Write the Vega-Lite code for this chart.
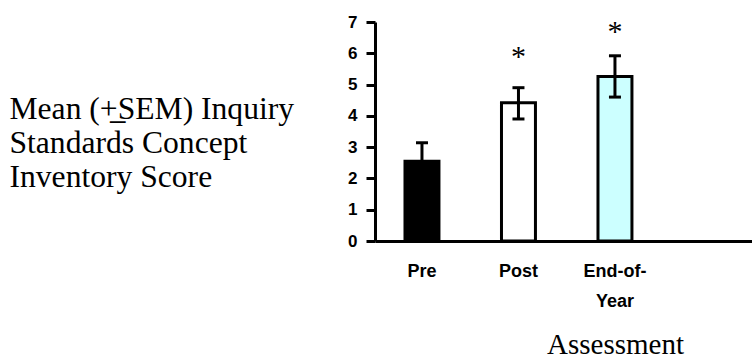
{
  "$schema": "https://vega.github.io/schema/vega-lite/v6.json",
  "width": 377,
  "height": 219,
  "autosize": {"type": "none"},
  "padding": {"left": 375, "top": 22, "right": 0, "bottom": 117},
  "background": "white",
  "config": {
    "view": {"stroke": null},
    "font": "Liberation Sans",
    "axis": {"domainColor": "black", "tickColor": "black", "labelColor": "black", "titleColor": "black", "grid": false}
  },
  "data": {
    "values": [
      {"assessment": "Pre", "mean": 2.55, "lo": 1.96, "hi": 3.14, "sig": "", "sig_at": null},
      {"assessment": "Post", "mean": 4.42, "lo": 3.9, "hi": 4.9, "sig": "*", "sig_at": 5.6},
      {"assessment": "End-of-Year", "mean": 5.26, "lo": 4.6, "hi": 5.92, "sig": "*", "sig_at": 6.4}
    ]
  },
  "encoding": {
    "x": {
      "field": "assessment",
      "type": "nominal",
      "sort": null,
      "scale": {"domain": ["Pre", "Post", "End-of-Year", "blank"], "paddingInner": 0.648, "paddingOuter": 0.2775, "align": 0.56},
      "axis": {
        "title": "Assessment",
        "values": ["Pre", "Post", "End-of-Year"],
        "labelExpr": "datum.value == 'End-of-Year' ? ['End-of-', 'Year'] : datum.value",
        "labelAngle": 0,
        "labelFontWeight": "bold",
        "labelFontSize": 18,
        "labelPadding": 21,
        "labelLineHeight": 30,
        "ticks": false,
        "tickSize": 0,
        "domainWidth": 3,
        "titleFont": "Liberation Serif",
        "titleFontSize": 29,
        "titleFontWeight": "normal",
        "titleX": 240,
        "titleY": 112,
        "titleAlign": "center",
        "titleBaseline": "alphabetic"
      }
    }
  },
  "layer": [
    {
      "mark": {"type": "bar", "stroke": "black", "strokeWidth": 3},
      "encoding": {
        "y": {
          "field": "mean",
          "type": "quantitative",
          "scale": {"domain": [0, 7], "nice": false},
          "axis": {
            "title": ["Mean (+\u0332SEM) Inquiry", "Standards Concept", "Inventory Score"],
            "titleAngle": 0,
            "titleAlign": "left",
            "titleBaseline": "alphabetic",
            "titleX": -366,
            "titleY": 96,
            "titleFont": "Liberation Serif",
            "titleFontSize": 31.6,
            "titleFontWeight": "normal",
            "titleLineHeight": 34,
            "values": [0, 1, 2, 3, 4, 5, 6, 7],
            "tickCount": 10,
            "labelOverlap": false,
            "format": "d",
            "labelFontWeight": "bold",
            "labelFontSize": 17,
            "labelPadding": 9,
            "tickSize": 9,
            "tickWidth": 3,
            "domainWidth": 3
          }
        },
        "fill": {
          "field": "assessment",
          "type": "nominal",
          "scale": {"domain": ["Pre", "Post", "End-of-Year"], "range": ["black", "white", "#ccffff"]},
          "legend": null
        }
      }
    },
    {
      "mark": {"type": "rule", "color": "black", "strokeWidth": 3},
      "encoding": {
        "y": {"field": "lo", "type": "quantitative"},
        "y2": {"field": "hi"}
      }
    },
    {
      "mark": {"type": "tick", "orient": "horizontal", "color": "black", "size": 12, "thickness": 3, "opacity": 1},
      "encoding": {"y": {"field": "hi", "type": "quantitative"}}
    },
    {
      "mark": {"type": "tick", "orient": "horizontal", "color": "black", "size": 12, "thickness": 3, "opacity": 1},
      "encoding": {"y": {"field": "lo", "type": "quantitative"}}
    },
    {
      "transform": [{"filter": "datum.sig != ''"}],
      "mark": {"type": "text", "font": "Liberation Serif", "fontSize": 30, "baseline": "alphabetic", "align": "center", "color": "black"},
      "encoding": {
        "y": {"field": "sig_at", "type": "quantitative"},
        "text": {"field": "sig"}
      }
    }
  ]
}
